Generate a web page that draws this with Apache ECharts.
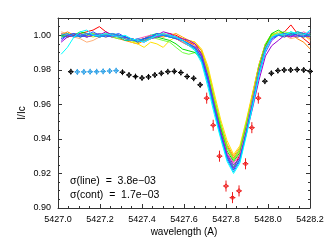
<!DOCTYPE html>
<html><head><meta charset="utf-8">
<script src="https://cdn.jsdelivr.net/npm/echarts@6/dist/echarts.min.js"></script>
<style>html,body{margin:0;padding:0;background:#fff}#c{width:327px;height:246px}</style>
</head><body><div id="c"></div>
<script>
// observed points
const pointWl = [5427.061,5427.092,5427.123,5427.153,5427.184,5427.215,5427.246,5427.277,5427.307,5427.338,
5427.369,5427.400,5427.431,5427.461,5427.492,5427.523,5427.554,5427.585,5427.615,5427.646,
5427.677,5427.708,5427.739,5427.769,5427.800,5427.831,5427.862,5427.893,5427.923,5427.954,
5427.985,5428.016,5428.047,5428.077,5428.108,5428.139,5428.170,5428.201];
const pointFlux = [0.9789,0.9788,0.9788,0.9789,0.9789,0.9791,0.9793,0.9795,0.9786,0.9770,
0.9761,0.9753,0.9759,0.9770,0.9780,0.9789,0.9791,0.9784,0.9761,0.9751,
0.9713,0.9636,0.9479,0.9300,0.9127,0.9060,0.9099,0.9256,0.9465,0.9636,
0.9734,0.9780,0.9795,0.9799,0.9799,0.9801,0.9799,0.9791];
const pointErr = [0.0017,0.0017,0.0017,0.0017,0.0017,0.0017,0.0017,0.0017,0.0017,0.0017,
0.0017,0.0017,0.0017,0.0017,0.0017,0.0017,0.0017,0.0017,0.0017,0.0017,
0.0017,0.0032,0.0032,0.0032,0.0032,0.0032,0.0032,0.0032,0.0032,0.0032,
0.0017,0.0017,0.0017,0.0017,0.0017,0.0017,0.0017,0.0017];
const pointGroup = ['k','b','b','b','b','b','b','b','k','k',
'k','k','k','k','k','k','k','k','k','k',
'k','r','r','r','r','r','r','r','r','r',
'k','k','k','k','k','k','k','k'];
const groupColor = {k:'#000000', b:'#2a9fe6', r:'#ee1c1c'};

// model profiles
const lineWl = [5427.015,5427.045,5427.076,5427.106,5427.137,5427.167,5427.197,5427.228,5427.258,5427.289,
5427.319,5427.349,5427.380,5427.410,5427.441,5427.471,5427.501,5427.532,5427.562,5427.593,
5427.623,5427.653,5427.684,5427.714,5427.745,5427.775,5427.805,5427.836,5427.866,5427.897,
5427.927,5427.957,5427.988,5428.018,5428.049,5428.079,5428.109,5428.140,5428.170,5428.201];
const modelRed = [1.000,0.999,1.000,1.001,1.002,1.003,1.005,1.002,1.000,1.000,0.999,0.998,0.997,0.997,0.998,0.999,1.000,1.001,1.000,0.998,0.996,0.994,0.989,0.976,0.959,0.944,0.930,0.923,0.931,0.949,0.966,0.983,0.995,1.000,1.001,1.002,1.006,1.001,0.998,0.995];
const modelOrange = [1.000,1.002,1.000,0.999,1.000,1.001,1.000,1.000,0.999,0.998,0.997,0.996,0.995,0.997,0.999,1.000,1.001,1.000,0.999,0.998,0.996,0.995,0.991,0.980,0.963,0.948,0.936,0.929,0.934,0.949,0.965,0.982,0.994,0.999,1.001,1.000,1.001,0.998,0.996,0.992];
const modelPeach = [1.002,1.001,0.999,0.998,0.996,0.997,0.999,1.000,0.999,1.000,0.999,0.998,0.997,0.998,0.999,1.000,0.999,1.000,0.999,0.997,0.995,0.994,0.990,0.978,0.962,0.947,0.935,0.928,0.933,0.948,0.964,0.981,0.994,1.000,1.001,1.000,0.998,0.999,1.000,0.997];
const modelGold = [0.999,1.000,1.001,1.000,0.999,1.000,1.000,0.999,1.000,0.999,0.998,0.997,0.996,0.997,0.998,1.000,0.999,1.000,1.001,0.999,0.997,0.996,0.991,0.980,0.964,0.949,0.937,0.930,0.935,0.950,0.966,0.982,0.995,1.001,1.000,0.999,1.000,1.001,1.000,0.998];
const modelYellow = [1.001,1.000,1.001,1.000,0.999,1.000,1.001,1.000,0.999,1.000,0.998,0.996,0.995,0.993,0.996,0.995,0.993,0.997,0.999,0.998,0.997,0.996,0.992,0.982,0.966,0.951,0.939,0.931,0.936,0.951,0.967,0.983,0.995,1.000,1.001,1.000,1.000,1.001,0.999,1.000];
const modelYellowGreen = [1.000,1.001,1.000,1.001,1.000,0.999,1.000,1.001,1.000,0.999,0.999,0.997,0.996,0.997,0.999,1.001,1.000,0.999,0.998,0.996,0.994,0.993,0.990,0.979,0.963,0.948,0.935,0.928,0.933,0.948,0.964,0.981,0.994,1.000,1.002,1.001,1.000,0.999,1.000,1.001];
const modelLightGreen = [1.001,1.000,0.999,1.001,1.000,1.001,1.000,1.000,0.999,0.998,0.999,0.997,0.996,0.998,0.999,0.998,0.997,0.996,0.993,0.990,0.989,0.990,0.988,0.978,0.962,0.948,0.935,0.928,0.934,0.949,0.964,0.982,0.995,1.001,1.000,1.002,1.001,1.000,1.001,0.999];
const modelGreen = [1.000,0.999,1.000,1.002,1.001,1.000,0.999,1.000,1.001,1.000,0.999,0.998,0.997,0.998,1.000,0.999,0.998,0.997,0.995,0.992,0.991,0.990,0.986,0.976,0.960,0.946,0.933,0.927,0.932,0.947,0.963,0.981,0.994,1.001,1.003,1.001,1.000,1.002,1.001,1.000];
const modelSeaGreen = [0.999,1.000,1.000,0.999,1.001,1.000,0.999,1.000,1.000,0.999,0.997,0.997,0.997,0.998,1.000,1.001,1.000,0.999,0.998,0.996,0.994,0.992,0.986,0.973,0.957,0.943,0.930,0.924,0.929,0.945,0.962,0.979,0.993,0.999,1.000,1.000,1.002,1.000,0.999,1.000];
const modelPink = [1.001,1.000,0.999,1.000,1.001,1.000,0.999,1.000,1.001,1.000,0.998,0.997,0.998,0.999,1.000,0.999,1.000,1.000,0.998,0.996,0.994,0.993,0.988,0.975,0.959,0.944,0.932,0.926,0.931,0.946,0.963,0.980,0.993,0.999,1.000,1.001,0.999,1.000,1.002,1.000];
const modelPurple = [0.996,0.999,1.000,1.001,0.999,1.000,1.000,1.002,1.000,0.999,0.999,0.998,0.997,0.998,0.999,1.000,1.002,1.001,0.999,0.998,0.997,0.995,0.989,0.976,0.959,0.944,0.931,0.925,0.929,0.943,0.958,0.974,0.988,0.994,0.997,1.000,0.999,1.001,1.000,0.999];
const modelViolet = [0.997,1.000,1.001,1.000,0.999,1.000,1.001,1.000,0.999,1.000,0.999,0.998,0.997,0.996,0.998,0.999,1.000,1.000,0.999,0.997,0.995,0.993,0.988,0.975,0.958,0.943,0.930,0.923,0.928,0.944,0.960,0.977,0.990,0.997,1.000,1.001,1.000,0.999,1.000,1.002];
const modelBlue = [0.998,1.000,1.001,0.999,1.000,1.002,1.000,0.999,1.000,1.001,0.999,0.998,0.996,0.998,0.999,1.001,1.000,0.999,0.998,0.997,0.995,0.993,0.987,0.974,0.957,0.942,0.929,0.922,0.928,0.944,0.961,0.978,0.992,0.998,1.000,0.999,1.001,1.000,0.999,1.001];
const modelLightBlue = [1.000,1.001,0.999,1.000,1.001,1.000,0.999,1.000,1.001,1.000,0.998,0.997,0.998,0.997,0.999,1.000,1.000,0.999,0.999,0.997,0.995,0.992,0.985,0.972,0.956,0.941,0.928,0.921,0.927,0.943,0.960,0.978,0.992,0.999,1.000,1.001,1.000,1.002,1.001,1.000];
const modelCyan = [0.989,0.993,0.999,1.002,1.003,1.000,1.000,1.001,1.000,0.999,1.000,0.998,0.997,0.996,0.998,1.000,1.001,1.000,0.999,0.997,0.994,0.991,0.984,0.970,0.954,0.940,0.927,0.920,0.926,0.942,0.959,0.977,0.991,0.999,1.001,1.000,1.002,1.001,1.000,1.003];

const models = [modelRed, modelPeach, modelOrange, modelGold, modelYellow, modelYellowGreen, modelLightGreen, modelGreen,
  modelSeaGreen, modelPink, modelPurple, modelViolet, modelBlue, modelLightBlue, modelCyan];
const modelColors = ['#ff0000','#ffb07a','#ff7f00','#ffa500','#ffe000','#c0f000','#70ff40','#00e000',
  '#00d090','#ff50b0','#9a00d0','#6a3cff','#2050ff','#00a0ff','#00ffff'];

const xTicks = [5427.0, 5428.2, 0.2];
const yTicks = [0.90, 1.01, 0.02];
const notes = ['σ(line)  =  3.8e\u221203', 'σ(cont)  =  1.7e\u221203'];

const chart = echarts.init(document.getElementById('c'), null, {renderer:'canvas'});
const axisCol = '#333';
const font = 'Liberation Sans, Arial, sans-serif';
const baseX = {type:'value', min:xTicks[0], max:xTicks[1], interval:xTicks[2],
  axisLine:{show:true, onZero:false, lineStyle:{color:axisCol, width:1}},
  axisTick:{show:true, inside:true, length:4, lineStyle:{color:axisCol}},
  minorTick:{show:true, splitNumber:4, length:2, lineStyle:{color:axisCol}},
  splitLine:{show:false}};
const baseY = {type:'value', min:yTicks[0], max:yTicks[1], interval:yTicks[2],
  axisLine:{show:true, onZero:false, lineStyle:{color:axisCol, width:1}},
  axisTick:{show:true, inside:true, length:4, lineStyle:{color:axisCol}},
  minorTick:{show:true, splitNumber:4, length:2, lineStyle:{color:axisCol}},
  splitLine:{show:false}};

const series = models.map((m, k) => ({
  type:'line', xAxisIndex:0, yAxisIndex:0, showSymbol:false, symbol:'none', silent:true,
  data: lineWl.map((w, j) => [w, m[j]]),
  lineStyle:{color:modelColors[k], width:1}, z:2, clip:true
}));

series.push({
  type:'custom', xAxisIndex:0, yAxisIndex:0, z:5, silent:true,
  data: pointWl.map((w, i) => [w, pointFlux[i], pointErr[i], i]),
  renderItem: function(params, api){
    const w = api.value(0), f = api.value(1), e = api.value(2), i = api.value(3);
    const c = groupColor[pointGroup[i]];
    const p = api.coord([w, f]);
    const t = api.coord([w, f + e]);
    const b = api.coord([w, f - e]);
    const r = 2.2;
    return {type:'group', children:[
      {type:'line', shape:{x1:p[0], y1:t[1], x2:p[0], y2:b[1]}, style:{stroke:c, lineWidth:1}},
      {type:'polygon', shape:{points:[[p[0]-r,p[1]],[p[0],p[1]-r],[p[0]+r,p[1]],[p[0],p[1]+r]]}, style:{fill:'#fff', stroke:c, lineWidth:1}},
      {type:'line', shape:{x1:p[0]-r-0.6, y1:p[1], x2:p[0]+r+0.6, y2:p[1]}, style:{stroke:c, lineWidth:1}},
      {type:'line', shape:{x1:p[0], y1:p[1]-r, x2:p[0], y2:p[1]+r}, style:{stroke:c, lineWidth:1}}
    ]};
  }
});

chart.setOption({
  animation:false,
  backgroundColor:'#fff',
  grid:{left:58, right:17, top:18, bottom:38, containLabel:false},
  xAxis:[
    Object.assign({}, baseX, {position:'bottom',
      name:'wavelength (A)', nameLocation:'middle', nameGap:19, nameMoveOverlap:false,
      nameTextStyle:{fontSize:10, color:'#000', fontFamily:font},
      axisLabel:{show:true, margin:7, fontSize:9, color:'#000', fontFamily:font,
        formatter:v => v.toFixed(1)}}),
    Object.assign({}, baseX, {position:'top', axisLabel:{show:false}})
  ],
  yAxis:[
    Object.assign({}, baseY, {position:'left',
      name:'I/Ic', nameLocation:'middle', nameGap:31, nameRotate:90, nameMoveOverlap:false,
      nameTextStyle:{fontSize:10, color:'#000', fontFamily:font},
      axisLabel:{show:true, margin:7, fontSize:9, color:'#000', fontFamily:font, showMaxLabel:false,
        formatter:v => v.toFixed(2)}}),
    Object.assign({}, baseY, {position:'right', axisLabel:{show:false}})
  ],
  graphic:[
    {type:'text', left:70, top:176, style:{text:notes[0], fontSize:10.5, fill:'#000', fontFamily:font}},
    {type:'text', left:70, top:190, style:{text:notes[1], fontSize:10.5, fill:'#000', fontFamily:font}}
  ],
  series: series
});
</script>
</body></html>
